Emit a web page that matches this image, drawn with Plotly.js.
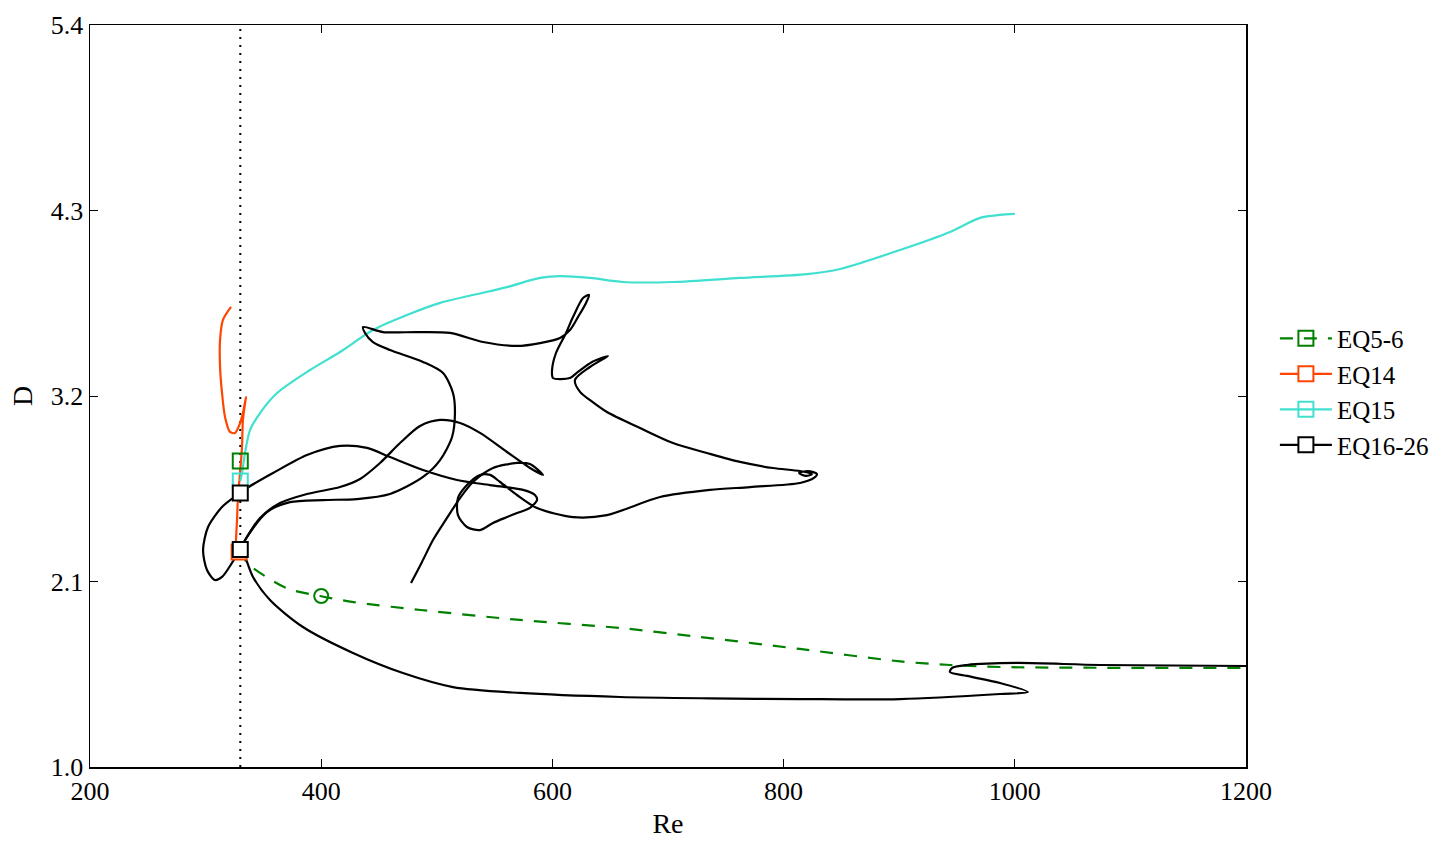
<!DOCTYPE html>
<html><head><meta charset="utf-8">
<script src="https://cdn.plot.ly/plotly-3.0.1.min.js"></script>
<style>html,body{margin:0;padding:0;background:#fff}#chart{width:1455px;height:853px}</style>
</head><body><div id="chart"></div>
<script>
// ---- data ----
const reCrit = 330;
const xTicks = [200, 400, 600, 800, 1000, 1200];
const yTicks = [1.0, 2.1, 3.2, 4.3, 5.4];

const eq56Re = [330, 336, 370, 399, 428, 486, 572, 659, 728, 814, 901, 944, 987, 1200];
const eq56D  = [2.29, 2.21, 2.061, 2.014, 1.978, 1.931, 1.872, 1.824, 1.771, 1.700, 1.626, 1.605, 1.593, 1.587];

const eq14Re = [322.0, 315.0, 312.5, 312.5, 314.2, 316.8, 321.1, 325.4, 329.8, 332.3, 334.9, 332.3, 331.5, 329.8, 328.0, 327.2, 326.3, 327.5];
const eq14D  = [3.728, 3.651, 3.532, 3.372, 3.218, 3.076, 2.987, 2.981, 3.040, 3.099, 3.194, 3.058, 2.898, 2.743, 2.601, 2.465, 2.305, 2.275];

const eq15Re = [330, 331.5, 334.1, 338.4, 347.1, 361.8, 390.3, 416.3, 444.8, 474.2, 502.8, 531.3, 560.7, 589.3, 606.6, 632.5, 661.0, 704.3, 762.3, 820.2, 848.8, 900.7, 944.0, 969.9, 987.2, 1000];
const eq15D  = [2.696, 2.743, 2.862, 2.998, 3.099, 3.218, 3.354, 3.461, 3.591, 3.680, 3.752, 3.799, 3.846, 3.900, 3.911, 3.900, 3.876, 3.876, 3.900, 3.923, 3.953, 4.066, 4.173, 4.256, 4.274, 4.280];

// EQ16-26 branches
const blk1Re = [330, 334.1, 341.0, 355.7, 384.2, 427.5, 470.7, 514.0, 572.0, 658.5, 736, 814.2, 900.7, 987.2, 1011.4, 987.2, 958.6, 943.9, 945.6, 958.6, 1001.9, 1073.7, 1200];
const blk1D  = [2.29, 2.245, 2.127, 1.990, 1.830, 1.676, 1.557, 1.474, 1.439, 1.415, 1.407, 1.403, 1.403, 1.433, 1.445, 1.498, 1.540, 1.563, 1.587, 1.605, 1.617, 1.605, 1.599];

const blk2Re = [330, 323.7, 314.2, 302.1, 297.8, 301.2, 308.1, 314.2, 322.8, 330];
const blk2D  = [2.625, 2.595, 2.542, 2.423, 2.287, 2.168, 2.109, 2.127, 2.210, 2.29];

const blk3Re = [330, 335.8, 358.3, 387.7, 416.3, 439.6, 459.5, 488.1, 517.5, 546.0, 574.6, 584.9, 586.7, 580.6, 569.4, 560.7, 548.6, 537.4, 526.1, 518.3, 518.3, 526.1, 537.4, 546.0, 554.7, 569.4,
  586.7, 617.8, 647.2, 693.1, 736.3, 770.9, 814.2, 826.3, 828.9, 821.1, 813.3, 819.4, 824.6, 814.2, 790.8, 762.3, 733.7, 704.3, 675.8, 647.2, 632.5, 623.9, 619.5,
  632.5, 648.1, 634.3, 622.1, 615.2, 600.5, 599.7, 603.1, 611.8, 617.8, 626.5, 631.7, 629.1, 622.1, 615.2, 606.6, 589.3, 569.4, 540.0, 511.4, 482.9, 453.5, 436.2,
  437.9, 444.8, 459.5, 488.1, 505.4, 514.0, 515.7, 513.2, 502.8, 488.1, 459.5, 431.0, 401.6, 373.0, 353.1, 335.8, 330];
const blk3D  = [2.625, 2.654, 2.743, 2.850, 2.904, 2.892, 2.838, 2.761, 2.702, 2.672, 2.643, 2.613, 2.583, 2.536, 2.506, 2.482, 2.447, 2.405, 2.423, 2.494, 2.595, 2.672, 2.732, 2.732, 2.690, 2.613,
  2.536, 2.482, 2.494, 2.601, 2.643, 2.660, 2.684, 2.714, 2.737, 2.755, 2.743, 2.726, 2.737, 2.755, 2.773, 2.809, 2.862, 2.921, 3.010, 3.105, 3.176, 3.224, 3.295,
  3.372, 3.437, 3.402, 3.343, 3.307, 3.307, 3.354, 3.455, 3.574, 3.668, 3.781, 3.799, 3.752, 3.668, 3.591, 3.544, 3.514, 3.497, 3.520, 3.574, 3.579, 3.579, 3.609,
  3.574, 3.520, 3.473, 3.402, 3.336, 3.218, 3.099, 2.957, 2.820, 2.720, 2.619, 2.589, 2.583, 2.571, 2.512, 2.364, 2.29];

const blk4Re = [330, 335.8, 347.1, 364.4, 387.7, 416.3, 433.6, 450.9, 468.2, 485.5, 502.8, 520.1, 537.4, 560.7, 580.6, 591.9, 580.6, 569.4, 548.6, 531.3, 520.1, 508.8, 496.7, 487.2, 477.7];
const blk4D  = [2.29, 2.364, 2.477, 2.565, 2.619, 2.660, 2.708, 2.803, 2.921, 3.022, 3.058, 3.040, 2.981, 2.868, 2.773, 2.732, 2.797, 2.803, 2.773, 2.690, 2.595, 2.477, 2.346, 2.216, 2.091];

// special points
const circRe = [400], circD = [2.014];
const sq56Re = [330], sq56D = [2.815];
const sq14Re = [329], sq14D = [2.275];
const sq15Re = [330], sq15D = [2.696];
const sq1626Re = [330, 330, 330], sq1626D = [2.625, null, 2.29];

// ---- styles ----
const GREEN = '#008000', ORANGE = '#FF4500', CYAN = '#40E0D0', BLACK = '#000000';
const LW = 2.2;
const curve = (x, y, color, dash) => ({
  x, y, type: 'scatter', mode: 'lines', showlegend: false, hoverinfo: 'skip',
  line: {color, width: LW, dash: dash || 'solid', shape: 'spline', smoothing: 0.8}
});

const traces = [
  {x: [reCrit, reCrit], y: [1.0, 5.4], type: 'scatter', mode: 'lines', showlegend: false,
   line: {color: BLACK, width: 2, dash: '2px,6px'}},
  curve(eq56Re, eq56D, GREEN, '13px,11px'),
  curve(eq14Re, eq14D, ORANGE),
  curve(eq15Re, eq15D, CYAN),
  curve(blk1Re, blk1D, BLACK),
  curve(blk2Re, blk2D, BLACK),
  curve(blk3Re, blk3D, BLACK),
  curve(blk4Re, blk4D, BLACK),
  {x: circRe, y: circD, type: 'scatter', mode: 'markers', showlegend: false,
   marker: {symbol: 'circle', size: 14, color: 'rgba(255,255,255,0)', line: {color: GREEN, width: 2}}},
  {x: sq56Re, y: sq56D, type: 'scatter', mode: 'lines+markers', name: 'EQ5-6',
   line: {color: GREEN, width: LW, dash: '13px,11px'},
   marker: {symbol: 'square', size: 15, color: 'rgba(255,255,255,0)', line: {color: GREEN, width: 2}}},
  {x: sq14Re, y: sq14D, type: 'scatter', mode: 'lines+markers', name: 'EQ14',
   line: {color: ORANGE, width: LW},
   marker: {symbol: 'square', size: 15, color: '#ffffff', line: {color: ORANGE, width: 2}}},
  {x: sq15Re, y: sq15D, type: 'scatter', mode: 'lines+markers', name: 'EQ15',
   line: {color: CYAN, width: LW},
   marker: {symbol: 'square', size: 15, color: 'rgba(255,255,255,0)', line: {color: CYAN, width: 2}}},
  {x: sq1626Re, y: sq1626D, type: 'scatter', mode: 'lines+markers', name: 'EQ16-26', connectgaps: false,
   line: {color: BLACK, width: LW},
   marker: {symbol: 'square', size: 15, color: '#ffffff', line: {color: BLACK, width: 2}}}
];

const FONT = 'Liberation Serif, Times New Roman, serif';
const axisCommon = {
  showline: true, linecolor: BLACK, linewidth: 1.5, mirror: 'allticks',
  ticks: 'inside', ticklen: 8, tickwidth: 1, tickcolor: BLACK,
  showgrid: false, zeroline: false, tickfont: {family: FONT, size: 26, color: BLACK}
};

const layout = {
  width: 1455, height: 853,
  margin: {l: 90, r: 209, t: 25, b: 86},
  paper_bgcolor: '#ffffff', plot_bgcolor: '#ffffff',
  font: {family: FONT, color: BLACK},
  showlegend: true,
  legend: {x: 1.025, y: 0.506, xanchor: 'left', yanchor: 'middle', font: {family: FONT, size: 25, color: BLACK},
           bgcolor: 'rgba(255,255,255,0)', borderwidth: 0, itemwidth: 52},
  xaxis: Object.assign({}, axisCommon, {range: [200, 1200], tickvals: xTicks, ticktext: xTicks.map(String),
    title: {text: 'Re', font: {family: FONT, size: 28, color: BLACK}, standoff: 8}}),
  yaxis: Object.assign({}, axisCommon, {range: [1.0, 5.4], tickvals: yTicks, ticktext: yTicks.map(v => v.toFixed(1)),
    title: {text: 'D', font: {family: FONT, size: 28, color: BLACK}, standoff: 10}})
};

Plotly.newPlot('chart', traces, layout, {displayModeBar: false, staticPlot: true});
</script></body></html>
